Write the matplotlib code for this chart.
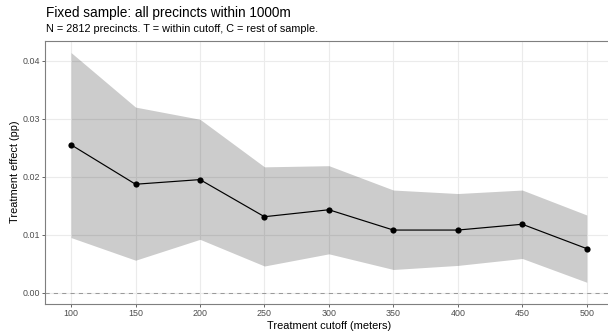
import matplotlib
matplotlib.use("Agg")
import matplotlib.pyplot as plt
import numpy as np

cutoffs = [100, 150, 200, 250, 300, 350, 400, 450, 500]
estimate = [0.0255, 0.0187, 0.0195, 0.0131, 0.0143, 0.0108, 0.0108, 0.0118, 0.0076]
upper = [0.0414, 0.0320, 0.0299, 0.0217, 0.0219, 0.0177, 0.0171, 0.0177, 0.0134]
lower = [0.0095, 0.0056, 0.0092, 0.0046, 0.0067, 0.0040, 0.0047, 0.0059, 0.0018]
x_ticks = [100, 150, 200, 250, 300, 350, 400, 450, 500]
y_ticks = [0.00, 0.01, 0.02, 0.03, 0.04]

title = "Fixed sample: all precincts within 1000m"
subtitle = "N = 2812 precincts. T = within cutoff, C = rest of sample."
xlabel = "Treatment cutoff (meters)"
ylabel = "Treatment effect (pp)"

plt.rcParams['font.family'] = ['Liberation Sans', 'DejaVu Sans']

W, H = 608, 336
fig = plt.figure(figsize=(W / 100, H / 100), dpi=100)
left, right, top, bottom = 45.3, 612.5, 40.7, 304.0
ax = fig.add_axes([left / W, 1 - bottom / H, (right - left) / W, (bottom - top) / H])

ax.set_xlim(80, 520)
ax.set_ylim(-0.00195, 0.04345)

ax.grid(True, color='#EBEBEB', linewidth=0.8, zorder=0)
ax.set_axisbelow(True)
ax.fill_between(cutoffs, lower, upper, color='black', alpha=0.2, linewidth=0, zorder=1)
ax.axhline(0, color='#9A9A9A', linestyle=(0, (4, 4)), linewidth=0.75, zorder=2)
ax.plot(cutoffs, estimate, color='black', linewidth=0.85, zorder=3)
ax.scatter(cutoffs, estimate, color='black', s=20, zorder=4, linewidths=0)

ax.set_xticks(x_ticks)
ax.set_xticklabels([str(v) for v in x_ticks])
ax.set_yticks(y_ticks)
ax.set_yticklabels([f"{v:.2f}" for v in y_ticks])
ax.tick_params(axis='both', colors='#4D4D4D', labelsize=6.4, length=2.0, width=0.6, pad=1.5)
ax.tick_params(axis='both', labelcolor='#4D4D4D')

for s in ax.spines.values():
    s.set_color('#7F7F7F')
    s.set_linewidth(0.8)

fig.text(15 / W, 1 - 172 / H, ylabel, rotation=90, ha='center', va='center', fontsize=7.9, color='black')
fig.text(329 / W, 1 - 326 / H, xlabel, ha='center', va='center', fontsize=7.9, color='black')
fig.text(46.5 / W, 1 - 13.3 / H, title, ha='left', va='center', fontsize=9.8, color='black')
fig.text(46.5 / W, 1 - 29.3 / H, subtitle, ha='left', va='center', fontsize=7.8, color='black')

fig.savefig("out.png", dpi=100)
